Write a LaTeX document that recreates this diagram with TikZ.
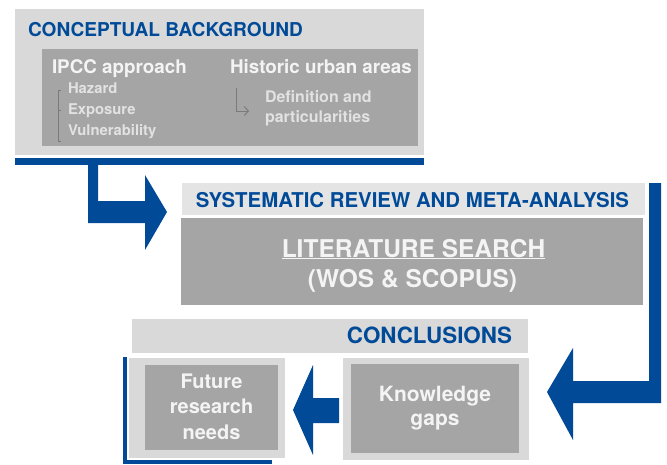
\documentclass[tikz,border=0pt]{standalone}
\usepackage{fontspec}
\setmainfont{TeX Gyre Heros}
\usetikzlibrary{arrows.meta}
\definecolor{cblue}{HTML}{004A98}
\definecolor{lgray}{HTML}{D9D9D9}
\definecolor{hgray}{HTML}{E4E4E4}
\definecolor{dgray}{HTML}{A5A5A5}
\definecolor{wtext}{HTML}{F4F4F4}
\definecolor{stext}{HTML}{E2E2E2}
\definecolor{brk}{HTML}{7A7A7A}
\newcommand{\fsz}[1]{\fontsize{#1}{#1}\selectfont\bfseries}
\tikzset{
  box/.style={draw=none, inner sep=0pt, outer sep=0pt, rectangle},
  lbox/.style={box, fill=lgray},
  hbox/.style={box, fill=hgray},
  dbox/.style={box, fill=dgray},
  bluebar/.style={box, fill=cblue},
  txt/.style={inner sep=0pt, outer sep=0pt, anchor=base},
  blockarrow/.style={fill=cblue, draw=none},
}
\begin{document}
\begin{tikzpicture}[x=1pt, y=-1pt]
\useasboundingbox (0,0) rectangle (667,464);
% ---------- top section ----------
\node[lbox, minimum width=409pt, minimum height=146pt] (cb) at (219.5,82) {};
\node[bluebar, minimum width=409pt, minimum height=7pt] (cbline) at (219.5,161.5) {};
\node[dbox, minimum width=376pt, minimum height=97pt] (cbin) at (230,97.5) {};
\node[txt, anchor=base west, text=cblue, font=\fsz{19.1}] (cbt) at (28,36) {CONCEPTUAL BACKGROUND};
\node[txt, anchor=base west, text=wtext, font=\fsz{18.8}] (ipcc) at (52,73) {IPCC approach};
\node[txt, anchor=base west, text=wtext, font=\fsz{18.8}] (hist) at (230,73) {Historic urban areas};
\node[txt, anchor=base west, text=stext, font=\fsz{14.8}] (haz) at (68,93.5) {Hazard};
\node[txt, anchor=base west, text=stext, font=\fsz{14.8}] (exp) at (68,114.5) {Exposure};
\node[txt, anchor=base west, text=stext, font=\fsz{14.8}] (vul) at (68,135.5) {Vulnerability};
\draw[brk, line width=0.9pt] (61,90) -- (58,90) -- (58,141) -- (61,141);
\draw[brk, line width=0.9pt] (58,110.5) -- (60.5,110.5);
\node[txt, anchor=base west, text=stext, font=\fsz{16}] (def) at (265,102) {Definition and};
\node[txt, anchor=base west, text=stext, font=\fsz{16}] (par) at (265,122) {particularities};
\draw[brk, line width=1pt, -{Straight Barb[length=4pt,width=9pt]}] (236,88) -- (236,111) -- (249,111);
% ---------- arrow 1 ----------
\fill[blockarrow] (88,165) -- (98,165) -- (98,201) -- (145,201) -- (145,175) -- (167,212)
  -- (145,250) -- (145,223) -- (88,223) -- cycle;
% ---------- middle section ----------
\node[hbox, minimum width=463pt, minimum height=32pt] (srh) at (413.5,199) {};
\node[dbox, minimum width=462pt, minimum height=87pt] (lit) at (412,261.5) {};
\node[txt, text=cblue, font=\fsz{20.4}] (srt) at (412.5,207) {SYSTEMATIC REVIEW AND META-ANALYSIS};
\node[txt, text=wtext, font=\fsz{24.5}] (lit1) at (413.5,257) {\underline{LITERATURE SEARCH}};
\node[txt, text=wtext, font=\fsz{24.5}] (lit2) at (412.5,287.5) {(WOS \& SCOPUS)};
% ---------- arrow 2 ----------
\fill[blockarrow] (649,183) -- (661,183) -- (661,403) -- (573,403) -- (573,440) -- (547,392)
  -- (573,348) -- (573,381) -- (649,381) -- cycle;
% ---------- bottom section ----------
\node[lbox, minimum width=396pt, minimum height=34pt] (conh) at (330,336) {};
\node[txt, anchor=base east, text=cblue, font=\fsz{22.4}] (cont) at (512,343) {CONCLUSIONS};
\node[lbox, minimum width=156pt, minimum height=100pt] (fro) at (207,408) {};
\node[dbox, minimum width=133pt, minimum height=85pt] (fri) at (211.5,407.5) {};
\node[lbox, minimum width=186pt, minimum height=102pt] (kgo) at (436,409) {};
\node[dbox, minimum width=168pt, minimum height=89pt] (kgi) at (435,408.5) {};
\node[txt, text=wtext, font=\fsz{21}] (kg1) at (435,401) {Knowledge};
\node[txt, text=wtext, font=\fsz{21}] (kg2) at (435,425) {gaps};
\node[txt, text=wtext, font=\fsz{20}] (fr1) at (211.5,388) {Future};
\node[txt, text=wtext, font=\fsz{20}] (fr2) at (211.5,413.5) {research};
\node[txt, text=wtext, font=\fsz{20}] (fr3) at (211.5,439) {needs};
% blue L line
\fill[cblue] (123,357) rectangle (127,464);
\fill[cblue] (123,460) rectangle (272,464);
% ---------- arrow 3 ----------
\fill[blockarrow] (339,398) -- (339,423) -- (313,423) -- (313,455) -- (293,410)
  -- (313,365) -- (313,398) -- cycle;
\end{tikzpicture}
\end{document}
